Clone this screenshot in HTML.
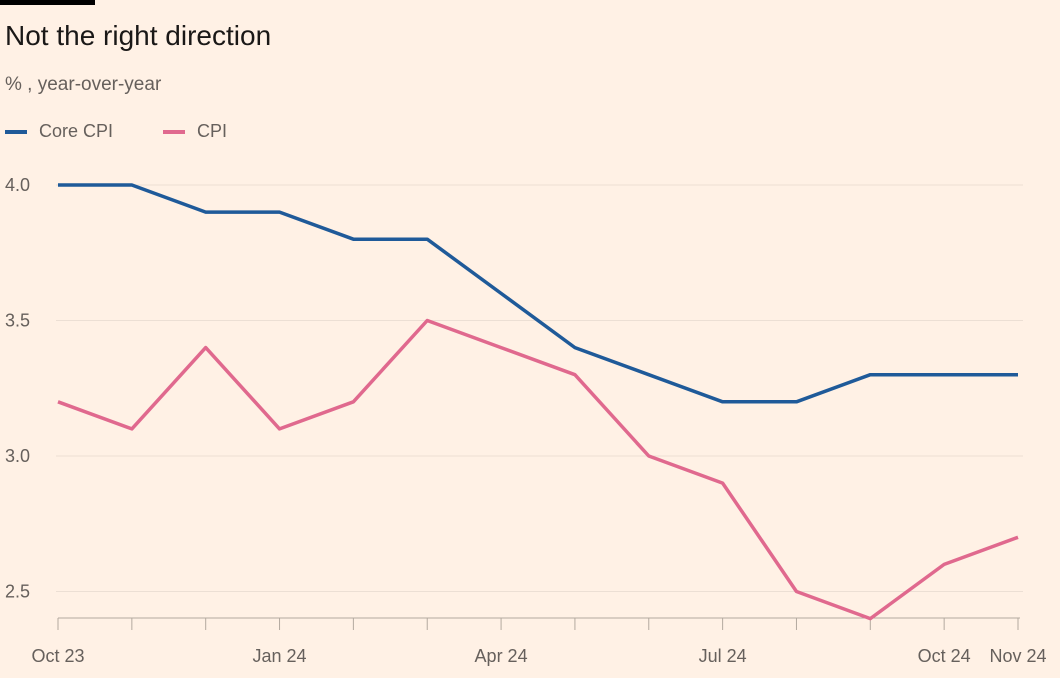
<!DOCTYPE html>
<html><head><meta charset="utf-8"><style>
html,body{margin:0;padding:0;background:#fff1e5;}
body{width:1060px;height:678px;overflow:hidden;position:relative;font-family:"Liberation Sans",sans-serif;}
.t{position:absolute;white-space:nowrap;}
</style></head><body>
<div style="position:absolute;left:0;top:0;width:95px;height:5px;background:#000"></div>
<div class="t" style="left:5px;top:20px;font-size:28px;color:#1a1817">Not the right direction</div>
<div class="t" style="left:5px;top:74px;font-size:19px;color:#66605c">% , year-over-year</div>
<div class="t" style="left:5px;top:121px;font-size:18px;color:#66605c"><span style="display:inline-block;width:22px;height:4px;background:#1f5a99;vertical-align:middle;margin-right:12px"></span>Core CPI</div>
<div class="t" style="left:163px;top:121px;font-size:18px;color:#66605c"><span style="display:inline-block;width:22px;height:4px;background:#e0698e;vertical-align:middle;margin-right:12px"></span>CPI</div>
<svg id="c" width="1060" height="678" style="position:absolute;left:0;top:0"></svg>
<script>
const months=['Oct 23','Nov 23','Dec 23','Jan 24','Feb 24','Mar 24','Apr 24','May 24','Jun 24','Jul 24','Aug 24','Sep 24','Oct 24','Nov 24'];
const xLabels={0:'Oct 23',3:'Jan 24',6:'Apr 24',9:'Jul 24',12:'Oct 24',13:'Nov 24'};
const coreCPI=[4.0,4.0,3.9,3.9,3.8,3.8,3.6,3.4,3.3,3.2,3.2,3.3,3.3,3.3];
const cpi=[3.2,3.1,3.4,3.1,3.2,3.5,3.4,3.3,3.0,2.9,2.5,2.4,2.6,2.7];
const yTicks=[2.5,3.0,3.5,4.0];
const svg=document.getElementById('c');const NS='http://www.w3.org/2000/svg';
const x=i=>58+i*(960/13);
const y=v=>185+(4.0-v)*271;
function mk(t,a){const e=document.createElementNS(NS,t);for(const k in a)e.setAttribute(k,a[k]);svg.appendChild(e);return e;}
yTicks.forEach(v=>{
 const g=mk('line',{x1:56,x2:1023,y1:y(v),y2:y(v),stroke:'#ecdfd4','stroke-width':1});
 
 
 const t=mk('text',{x:5,y:y(v)+6,'font-size':18,fill:'#66605c','font-family':'Liberation Sans'});
 t.textContent=v.toFixed(1);
 
 
});
const ax=mk('line',{x1:58,x2:1020,y1:618,y2:618,stroke:'#b3a99f','stroke-width':1});


months.forEach((m,i)=>{
 const tk=mk('line',{x1:x(i),x2:x(i),y1:618,y2:630,stroke:'#b3a99f','stroke-width':1});
 
 
 if(xLabels[i]){
  const t=mk('text',{x:x(i),y:662,'font-size':18,fill:'#66605c','text-anchor':'middle','font-family':'Liberation Sans'});
  t.textContent=xLabels[i];
  
  
 }
});
function line(d,c,n){
 const p=mk('polyline',{points:d.map((v,i)=>x(i)+','+y(v)).join(' '),fill:'none',stroke:c,'stroke-width':3.5,'stroke-linejoin':'round'});
 
 
}
line(cpi,'#e0698e','cpi-line');
line(coreCPI,'#1f5a99','core-cpi-line');
</script>
</body></html>
